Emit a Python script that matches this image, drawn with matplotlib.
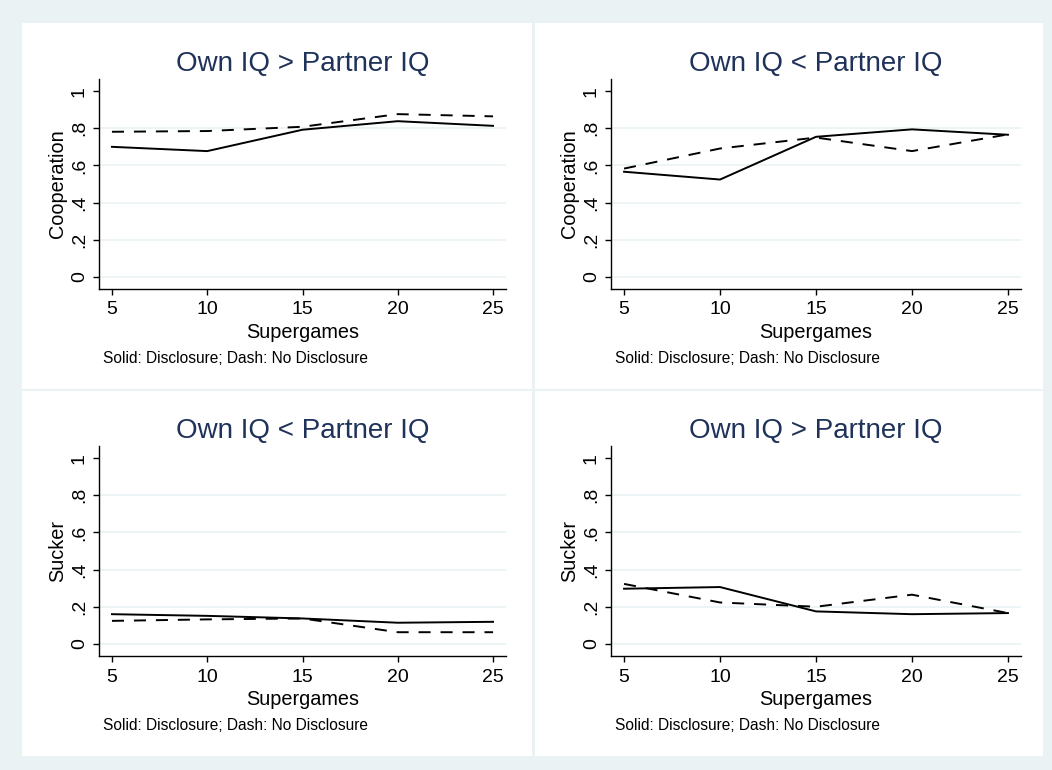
import matplotlib
matplotlib.use("Agg")
import matplotlib.pyplot as plt
from matplotlib.patches import Rectangle

# data
supergames = [5, 10, 15, 20, 25]

coop_high_solid = [0.700, 0.677, 0.792, 0.838, 0.813]
coop_high_dash = [0.781, 0.785, 0.808, 0.876, 0.864]
coop_low_solid = [0.566, 0.524, 0.754, 0.794, 0.765]
coop_low_dash = [0.583, 0.691, 0.750, 0.677, 0.767]
sucker_low_solid = [0.160, 0.151, 0.137, 0.114, 0.119]
sucker_low_dash = [0.124, 0.132, 0.137, 0.063, 0.063]
sucker_high_solid = [0.297, 0.306, 0.175, 0.160, 0.166]
sucker_high_dash = [0.323, 0.223, 0.200, 0.265, 0.166]

yticks = [0, 0.2, 0.4, 0.6, 0.8, 1]
ytick_labels = ["0", ".2", ".4", ".6", ".8", "1"]
xticks = [5, 10, 15, 20, 25]

W, H = 1052, 770
BG = "#EAF2F3"
NAVY = "#1F3259"

plt.rcParams["font.family"] = ["Liberation Sans", "DejaVu Sans"]

fig = plt.figure(figsize=(W / 100, H / 100), dpi=100)
fig.patch.set_facecolor(BG)


def px_rect(x0, y0, x1, y1):
    # pixel box (top-left origin) -> figure fraction
    return [x0 / W, 1 - y1 / H, (x1 - x0) / W, (y1 - y0) / H]


# white panel backgrounds
for (x0, y0, x1, y1) in [(22, 23, 532, 389), (535, 23, 1043, 389),
                         (22, 391, 532, 756), (535, 391, 1043, 756)]:
    fig.patches.append(Rectangle((x0 / W, 1 - y1 / H), (x1 - x0) / W, (y1 - y0) / H,
                                 transform=fig.transFigure, facecolor="white",
                                 edgecolor="none", zorder=-5))

panels = [
    ((99, 79, 506, 289), "Own IQ > Partner IQ", "Cooperation", coop_high_solid, coop_high_dash),
    ((611, 79, 1021, 289), "Own IQ < Partner IQ", "Cooperation", coop_low_solid, coop_low_dash),
    ((99, 446, 506, 656), "Own IQ < Partner IQ", "Sucker", sucker_low_solid, sucker_low_dash),
    ((611, 446, 1021, 656), "Own IQ > Partner IQ", "Sucker", sucker_high_solid, sucker_high_dash),
]

for box, title, ylabel, solid, dash in panels:
    ax = fig.add_axes(px_rect(*box))
    ax.set_facecolor("white")
    for y in yticks[:-1]:
        ax.axhline(y, color=BG, lw=1.2, zorder=1)
    ax.plot(supergames, solid, color="black", lw=1.4, zorder=3)
    ax.plot(supergames, dash, color="black", lw=1.4, dashes=(6.2, 5.1), zorder=3)
    ax.set_xlim(4.32, 25.68)
    ax.set_ylim(-0.065, 1.065)
    ax.set_xticks(xticks)
    ax.set_yticks(yticks)
    ax.set_yticklabels(ytick_labels, rotation=90, va="center")
    ax.tick_params(axis="both", labelsize=14, length=4.5, width=1, direction="out", color="black")
    ax.tick_params(axis="x", pad=4.5)
    ax.tick_params(axis="y", pad=3.5)
    for s in ["top", "right"]:
        ax.spines[s].set_visible(False)
    for s in ["left", "bottom"]:
        ax.spines[s].set_linewidth(1)
    ax.set_ylabel(ylabel, fontsize=14.3, labelpad=3)
    ax.set_xlabel("Supergames", fontsize=14.3, labelpad=3)
    ax.set_title(title, fontsize=20, color=NAVY, pad=6)
    ax.text(0.01, -0.329, "Solid: Disclosure; Dash: No Disclosure", transform=ax.transAxes,
            fontsize=11.2, ha="left", va="center")

fig.savefig("out.png", dpi=100, facecolor=BG)
